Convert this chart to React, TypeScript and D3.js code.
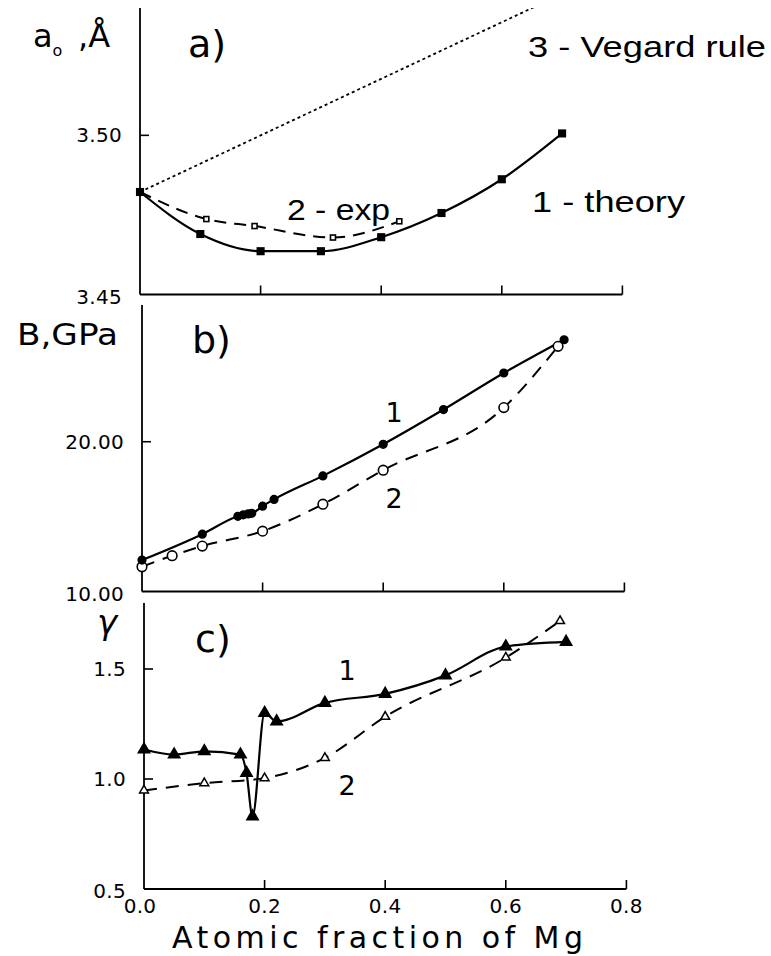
import React, { useEffect, useRef } from 'react';
import * as d3 from 'd3';

// shared x axis
const xTicks = [0, 0.2, 0.4, 0.6, 0.8];
const xTickLabels = ['0.0', '0.2', '0.4', '0.6', '0.8'];

// a) lattice parameter a0, A
const aTheoryX = [0, 0.1, 0.2, 0.3, 0.4, 0.5, 0.6, 0.7];
const aTheoryY = [3.4822, 3.469, 3.4636, 3.4636, 3.468, 3.4756, 3.4862, 3.5006];
const aExpX = [0, 0.11, 0.19, 0.32, 0.43];
const aExpY = [3.4822, 3.4737, 3.4715, 3.4679, 3.473];
const aVegardX = [0, 0.8];
const aVegardY = [3.4822, 3.5533];
const aYTicks = [3.45, 3.5];
const aYLabels = ['3.45', '3.50'];

// b) bulk modulus B, GPa
const bTheoryX = [0, 0.1, 0.159, 0.168, 0.176, 0.182, 0.2, 0.219, 0.3, 0.4, 0.5, 0.6, 0.7];
const bTheoryY = [12.1, 13.83, 15.02, 15.12, 15.18, 15.22, 15.7, 16.15, 17.72, 19.83, 22.15, 24.59, 26.81];
const bExpX = [0, 0.05, 0.1, 0.2, 0.3, 0.4, 0.6, 0.69];
const bExpY = [11.65, 12.39, 13.03, 14.03, 15.83, 18.1, 22.28, 26.37];
const bYTicks = [10, 20];
const bYLabels = ['10.00', '20.00'];

// c) gamma
const cTheoryX = [0, 0.05, 0.1, 0.16, 0.17, 0.18, 0.2, 0.22, 0.3, 0.4, 0.5, 0.6, 0.7];
const cTheoryY = [1.134, 1.111, 1.126, 1.111, 1.027, 0.83, 1.3, 1.262, 1.346, 1.387, 1.471, 1.602, 1.623];
const cExpX = [0, 0.1, 0.2, 0.3, 0.4, 0.6, 0.69];
const cExpY = [0.948, 0.981, 1.004, 1.096, 1.283, 1.552, 1.718];
const cYTicks = [0.5, 1.0, 1.5];
const cYLabels = ['0.5', '1.0', '1.5'];

const zip = (xs: number[], ys: number[]) => xs.map((x, i) => [x, ys[i]] as [number, number]);

const App = () => {
  const ref = useRef<SVGSVGElement>(null);

  useEffect(() => {
    const svg = d3.select(ref.current);
    svg.selectAll('*').remove();
    const font = "'DejaVu Sans', sans-serif";
    const arial = "'Liberation Sans', Arial, sans-serif";
    const perUnit = 603;

    const panels = [
      {
        id: 'a', left: 140, top: 8, bottom: 294.5, domain: [3.45, 3.54],
        yTicks: aYTicks, yLabels: aYLabels, tickLabels: false,
        series: [
          { pts: zip(aVegardX, aVegardY), dash: '3,3', width: 1.8, marker: null },
          { pts: zip(aExpX, aExpY), dash: '12,8', width: 2, marker: 'sqOpen' },
          { pts: zip(aTheoryX, aTheoryY), dash: null, width: 2.2, marker: 'sq' },
        ],
      },
      {
        id: 'b', left: 142, top: 305, bottom: 591.5, domain: [10, 29.13],
        yTicks: bYTicks, yLabels: bYLabels, tickLabels: false,
        series: [
          { pts: zip(bExpX, bExpY), dash: '13,9', width: 2, marker: 'circOpen' },
          { pts: zip(bTheoryX, bTheoryY), dash: null, width: 2.2, marker: 'circ' },
        ],
      },
      {
        id: 'c', left: 144, top: 603, bottom: 889, domain: [0.5, 1.8],
        yTicks: cYTicks, yLabels: cYLabels, tickLabels: true,
        series: [
          { pts: zip(cExpX, cExpY), dash: '13,9', width: 2, marker: 'triOpen' },
          { pts: zip(cTheoryX, cTheoryY), dash: null, width: 2.2, marker: 'tri' },
        ],
      },
    ];

    panels.forEach((p) => {
      const x = d3.scaleLinear().domain([0, 0.8]).range([p.left, p.left + 0.8 * perUnit]);
      const y = d3.scaleLinear().domain(p.domain).range([p.bottom, p.top]);
      const g = svg.append('g');

      g.append('clipPath').attr('id', 'clip-' + p.id)
        .append('rect')
        .attr('x', p.left - 10).attr('y', p.top)
        .attr('width', 0.8 * perUnit + 20).attr('height', p.bottom - p.top);

      // axes
      g.append('line')
        .attr('x1', p.left).attr('x2', p.left)
        .attr('y1', p.top).attr('y2', p.bottom)
        .attr('stroke', '#000').attr('stroke-width', 1.8);
      g.append('line')
        .attr('x1', p.left).attr('x2', x(0.8))
        .attr('y1', p.bottom).attr('y2', p.bottom)
        .attr('stroke', '#000').attr('stroke-width', 1.8);

      g.selectAll('.xt').data(xTicks.slice(1)).enter().append('line')
        .attr('x1', d => x(d)).attr('x2', d => x(d))
        .attr('y1', p.bottom).attr('y2', p.bottom - 9)
        .attr('stroke', '#000').attr('stroke-width', 1.6);

      g.selectAll('.yt').data(p.yTicks.slice(1)).enter().append('line')
        .attr('x1', p.left).attr('x2', p.left + 9)
        .attr('y1', d => y(d)).attr('y2', d => y(d))
        .attr('stroke', '#000').attr('stroke-width', 1.6);

      g.selectAll('.yl').data(p.yTicks).enter().append('text')
        .attr('x', p.left - 18)
        .attr('y', (d, i) => y(d) + (i === 0 ? 9 : 7))
        .attr('text-anchor', 'end')
        .attr('font-family', font).attr('font-size', 20)
        .attr('letter-spacing', 0.3)
        .text((d, i) => p.yLabels[i]);

      if (p.tickLabels) {
        g.selectAll('.xl').data(xTicks).enter().append('text')
          .attr('x', d => (d === 0 ? x(d) - 4 : x(d)))
          .attr('y', p.bottom + 24)
          .attr('text-anchor', 'middle')
          .attr('font-family', font).attr('font-size', 20)
          .attr('letter-spacing', 0.3)
          .text((d, i) => xTickLabels[i]);
      }

      const plot = g.append('g').attr('clip-path', `url(#clip-${p.id})`);
      const line = d3.line<[number, number]>()
        .x(d => x(d[0])).y(d => y(d[1]))
        .curve(d3.curveMonotoneX);

      p.series.forEach((s) => {
        plot.append('path')
          .attr('d', line(s.pts))
          .attr('fill', 'none').attr('stroke', '#000')
          .attr('stroke-width', s.width)
          .attr('stroke-dasharray', s.dash);

        if (!s.marker) return;
        const open = s.marker.endsWith('Open');
        const m = g.selectAll('.m').data(s.pts).enter();
        if (s.marker.startsWith('sq')) {
          const sz = open ? 5 : 6.5;
          m.append('rect')
            .attr('x', d => x(d[0]) - sz / 2).attr('y', d => y(d[1]) - sz / 2)
            .attr('width', sz).attr('height', sz)
            .attr('fill', open ? '#fff' : '#000').attr('stroke', '#000').attr('stroke-width', 1.6);
        } else if (s.marker.startsWith('circ')) {
          m.append('circle')
            .attr('cx', d => x(d[0])).attr('cy', d => y(d[1]))
            .attr('r', open ? 4.8 : 3.8)
            .attr('fill', open ? '#fff' : '#000').attr('stroke', '#000').attr('stroke-width', 1.6);
        } else {
          const sym = d3.symbol().type(d3.symbolTriangle).size(open ? 34 : 56);
          m.append('path')
            .attr('d', sym())
            .attr('transform', d => `translate(${x(d[0])},${y(d[1])})`)
            .attr('fill', open ? '#fff' : '#000').attr('stroke', '#000').attr('stroke-width', 1.5);
        }
      });
    });

    // panel letters
    const letters = [['a)', 188, 57], ['b)', 192, 353], ['c)', 195, 652]];
    letters.forEach(([t, lx, ly]) => {
      svg.append('text').attr('x', lx).attr('y', ly)
        .attr('font-family', font).attr('font-size', 38)
        .text(t as string);
    });

    // y titles
    const ya = svg.append('text').attr('x', 33).attr('y', 47)
      .attr('font-family', font).attr('font-size', 32);
    ya.append('tspan').text('a');
    ya.append('tspan').attr('font-size', 16).attr('dy', 9).text('o');
    ya.append('tspan').attr('x', 78).attr('dy', -9).attr('font-size', 32).text(',Å');

    svg.append('text').attr('x', 17).attr('y', 345)
      .attr('font-family', font).attr('font-size', 31)
      .attr('textLength', 101).attr('lengthAdjust', 'spacingAndGlyphs')
      .text('B,GPa');

    svg.append('text').attr('x', 97).attr('y', 634)
      .attr('font-family', font).attr('font-size', 34).attr('font-style', 'italic')
      .text('γ');

    // curve numbers
    const nums = [['1', 394, 422], ['2', 394, 508], ['1', 347, 680], ['2', 347, 795]];
    nums.forEach(([t, nx, ny]) => {
      svg.append('text').attr('x', nx).attr('y', ny)
        .attr('text-anchor', 'middle')
        .attr('font-family', font).attr('font-size', 27)
        .text(t as string);
    });

    // legend notes in panel a
    const notes = [['3 - Vegard rule', 528, 57, 238], ['1 - theory', 532, 212, 153], ['2 - exp', 287, 220, 103]];
    notes.forEach(([t, nx, ny, w]) => {
      svg.append('text').attr('x', nx).attr('y', ny)
        .attr('font-family', arial).attr('font-size', 30)
        .attr('textLength', w).attr('lengthAdjust', 'spacingAndGlyphs')
        .text(t as string);
    });

    // x title
    svg.append('text').attr('x', 172).attr('y', 948)
      .attr('font-family', font).attr('font-size', 30)
      .attr('textLength', 411).attr('lengthAdjust', 'spacing')
      .text('Atomic fraction of Mg');
  }, []);

  return (
    <svg ref={ref} width={771} height={956}
      style={{ position: 'absolute', left: 0, top: 0, background: '#fff' }} />
  );
};

export default App;
